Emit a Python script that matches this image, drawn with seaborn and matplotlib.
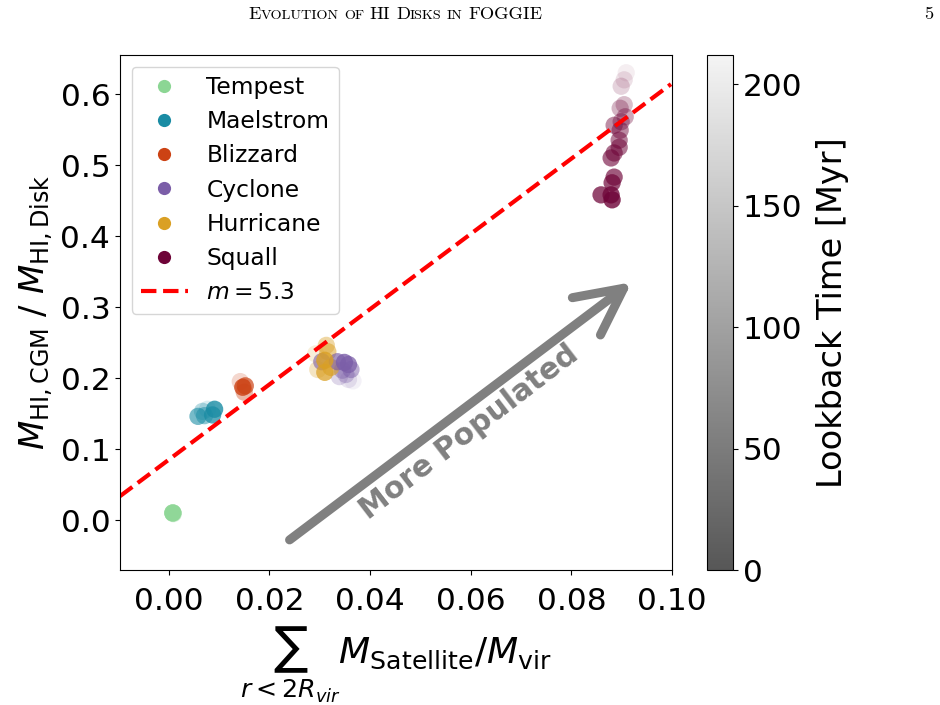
import numpy as np
import pandas as pd
import matplotlib
matplotlib.use("Agg")
import matplotlib.pyplot as plt
import seaborn as sns
from matplotlib.lines import Line2D
from matplotlib.colors import LinearSegmentedColormap, Normalize, to_rgba
from matplotlib.cm import ScalarMappable
from matplotlib.text import Annotation

# ---------------- data ----------------
galaxies = ["Tempest", "Maelstrom", "Blizzard", "Cyclone", "Hurricane", "Squall"]
galaxy_colors = ["#8cd694", "#1a8ca4", "#cc4214", "#7b5ea8", "#daa024", "#6e0438"]

tempest_x = [0.0008, 0.0008, 0.0009, 0.0008]
tempest_y = [0.010, 0.010, 0.009, 0.010]
tempest_t = [0, 60, 120, 180]

maelstrom_x = [0.0091, 0.0087, 0.0058, 0.0071, 0.0067, 0.0077]
maelstrom_y = [0.156, 0.148, 0.146, 0.147, 0.153, 0.156]
maelstrom_t = [0, 20, 60, 90, 140, 185]

blizzard_x = [0.0147, 0.0152, 0.0150, 0.0142]
blizzard_y = [0.187, 0.189, 0.180, 0.195]
blizzard_t = [0, 30, 120, 170]

cyclone_x = [0.0349, 0.0357, 0.0335, 0.0304, 0.0362, 0.0345, 0.0352, 0.0339, 0.0357, 0.0366]
cyclone_y = [0.222, 0.219, 0.223, 0.223, 0.212, 0.211, 0.205, 0.202, 0.198, 0.196]
cyclone_t = [0, 20, 40, 60, 90, 110, 140, 160, 185, 205]

hurricane_x = [0.0310, 0.0310, 0.0322, 0.0316, 0.0313, 0.0296, 0.0292]
hurricane_y = [0.225, 0.208, 0.215, 0.237, 0.246, 0.212, 0.234]
hurricane_t = [0, 20, 50, 80, 110, 150, 180]

squall_x = [0.0881, 0.0879, 0.0859, 0.0881, 0.0885, 0.0879, 0.0885, 0.0895, 0.0895,
            0.0897, 0.0885, 0.0899, 0.0907, 0.0897, 0.0905, 0.0899, 0.0905, 0.0909]
squall_y = [0.451, 0.458, 0.458, 0.475, 0.483, 0.510, 0.517, 0.525, 0.535,
            0.549, 0.556, 0.561, 0.568, 0.580, 0.585, 0.611, 0.620, 0.630]
squall_t = [0, 10, 20, 30, 40, 55, 65, 75, 85,
            95, 100, 120, 130, 145, 155, 180, 195, 210]

fit_slope = 5.3
fit_intercept = 0.085

arrow_start = (0.0240, -0.028)
arrow_end = (0.0920, 0.335)
arrow_label = "More Populated"
arrow_label_pos = (0.0597, 0.124)

cbar_ticks = [0, 50, 100, 150, 200]
t_max = 212

# ---------------- build table ----------------
xs = [tempest_x, maelstrom_x, blizzard_x, cyclone_x, hurricane_x, squall_x]
ys = [tempest_y, maelstrom_y, blizzard_y, cyclone_y, hurricane_y, squall_y]
ts = [tempest_t, maelstrom_t, blizzard_t, cyclone_t, hurricane_t, squall_t]
rows = []
for g, xv, yv, tv in zip(galaxies, xs, ys, ts):
    for a, b, c in zip(xv, yv, tv):
        rows.append({"galaxy": g, "x": a, "y": b, "t": c})
df = pd.DataFrame(rows)
df = df.sort_values("t", ascending=False, kind="stable").reset_index(drop=True)
pal = dict(zip(galaxies, galaxy_colors))

def alpha_of(t):
    return 0.8 - 0.74 * (t / t_max)

# ---------------- figure ----------------
fig = plt.figure(figsize=(9.4, 7.05), dpi=100)
ax_b, ax_t = 570, 55
ax = fig.add_axes([120 / 940, (705 - ax_b) / 705, 552 / 940, (ax_b - ax_t) / 705])
cax = fig.add_axes([707 / 940, (705 - ax_b) / 705, 26 / 940, (ax_b - ax_t) / 705])

sns.scatterplot(data=df, x="x", y="y", hue="galaxy", palette=pal, s=155,
                linewidth=0, legend=False, ax=ax)
coll = ax.collections[-1]
fc = [to_rgba(pal[g], alpha_of(t)) for g, t in zip(df["galaxy"], df["t"])]
coll.set_facecolor(fc)
coll.set_edgecolor("none")
coll.set_alpha(None)

ax.set_xlim(-0.0097, 0.0998)
ax.set_ylim(-0.0704, 0.655)
xl = np.array(ax.get_xlim())
ax.plot(xl, fit_slope * xl + fit_intercept, color="red", ls="--", lw=3, zorder=1)

ax.annotate("", xy=arrow_end, xytext=arrow_start,
            arrowprops=dict(arrowstyle="->", color="gray", lw=6.5,
                            mutation_scale=84, capstyle="round", joinstyle="round",
                            shrinkA=0, shrinkB=0))
ax.text(arrow_label_pos[0], arrow_label_pos[1], arrow_label, rotation=37.5,
        rotation_mode="anchor", ha="center", va="center", fontsize=21.5,
        fontweight="bold", color="gray")

ax.set_xticks([0.00, 0.02, 0.04, 0.06, 0.08, 0.10])
ax.set_xticklabels(["0.00", "0.02", "0.04", "0.06", "0.08", "0.10"])
ax.set_yticks([0.0, 0.1, 0.2, 0.3, 0.4, 0.5, 0.6])
ax.set_yticklabels(["0.0", "0.1", "0.2", "0.3", "0.4", "0.5", "0.6"])
ax.tick_params(labelsize=22.5)
ax.tick_params(axis="x", pad=9)
ax.set_xlabel(r"$\sum_{r<2R_{vir}} M_{\rm Satellite}/M_{\rm vir}$", fontsize=26,
              labelpad=6)
ax.set_ylabel(r"$M_{\rm HI,CGM}$ / $M_{\rm HI,Disk}$", fontsize=24.5)

handles = [Line2D([0], [0], marker="o", ls="none", markersize=9.5,
                  markerfacecolor=c, markeredgewidth=0, label=g)
           for g, c in zip(galaxies, galaxy_colors)]
handles.append(Line2D([0], [0], color="red", ls="--", lw=3, label=r"$m = 5.3$"))
ax.legend(handles=handles, loc="upper left", fontsize=16.8, labelspacing=0.48,
          borderaxespad=0.5)

cmap = LinearSegmentedColormap.from_list("lb", ["#575757", "#f4f4f4"])
sm = ScalarMappable(norm=Normalize(0, t_max), cmap=cmap)
cb = fig.colorbar(sm, cax=cax, ticks=cbar_ticks)
cb.ax.tick_params(labelsize=22.5)
cb.set_label("Lookback Time [Myr]", fontsize=24.2, labelpad=10)

# ---------------- running header ----------------
big, small = 13.2, 10.2
pieces = [("E", big, 0), ("VOLUTION", small, 0), ("OF", small, 4.0), ("HI", big, 4.0),
          ("D", big, 4.0), ("ISKS", small, 0), ("IN", small, 4.0), ("FOGGIE", big, 4.0)]
prev = fig.text(248 / 940, 1 - 19 / 705, pieces[0][0], fontsize=pieces[0][1],
                family="cmr10", va="baseline", ha="left")
for txt, sz, gap in pieces[1:]:
    a = Annotation(txt, xy=(1, 0), xycoords=prev, xytext=(gap, 0),
                   textcoords="offset points", fontsize=sz, family="cmr10",
                   va="bottom", ha="left")
    fig.add_artist(a)
    prev = a
fig.text(933 / 940, 1 - 19 / 705, "5", fontsize=big, family="cmr10",
         va="baseline", ha="right")

fig.savefig("out.png", dpi=100)
